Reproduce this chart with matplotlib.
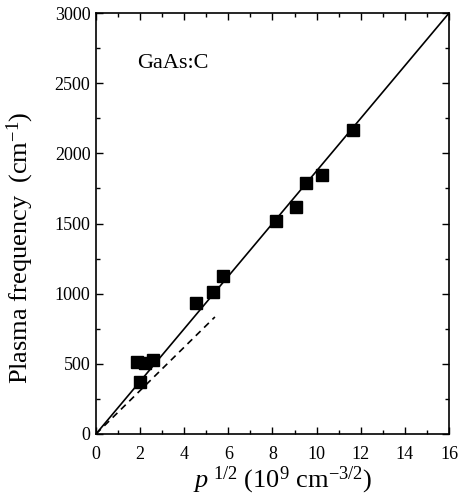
import matplotlib
matplotlib.use("Agg")
import matplotlib.pyplot as plt
import numpy as np
from matplotlib.ticker import MultipleLocator

plt.rcParams['font.family'] = ['Liberation Serif', 'DejaVu Serif']
plt.rcParams['mathtext.fontset'] = 'custom'
plt.rcParams['mathtext.rm'] = 'Liberation Serif'
plt.rcParams['mathtext.it'] = 'Liberation Serif:italic'

# measured points
p_sqrt = [1.84, 2.22, 2.6, 2.0, 4.55, 5.29, 5.74, 8.14, 9.05, 9.53, 10.26, 11.65]
plasma = [515, 506, 530, 368, 935, 1012, 1124, 1516, 1619, 1790, 1848, 2166]

# fit lines
fit_x = [0, 16]
fit_y = [0, 3000]
dash_x = [0, 5.39]
dash_y = [0, 834]

fig = plt.figure(figsize=(4.58, 5.04), dpi=100)
ax = fig.add_axes([0.2096, 0.139, 0.7707, 0.835])

ax.plot(fit_x, fit_y, color='black', lw=1.2)
ax.plot(dash_x, dash_y, color='black', lw=1.2, ls=(0, (4, 3)))
ax.plot(p_sqrt, plasma, 's', color='black', ms=8.5, zorder=3)

ax.set_xlim(0, 16)
ax.set_ylim(0, 3000)
ax.xaxis.set_major_locator(MultipleLocator(2))
ax.xaxis.set_minor_locator(MultipleLocator(1))
ax.yaxis.set_major_locator(MultipleLocator(500))
ax.yaxis.set_minor_locator(MultipleLocator(250))
ax.tick_params(which='both', direction='in', top=True, right=True, labelsize=13, width=1)
ax.tick_params(which='major', length=5)
ax.tick_params(which='minor', length=3)
ax.tick_params(axis='x', pad=9)
ax.tick_params(axis='y', pad=4)
for s in ax.spines.values():
    s.set_linewidth(1.2)

ax.text(1.86, 2644, 'GaAs:C', fontsize=16, va='center', ha='left')
ax.set_xlabel(r'$p^{\ 1/2}$ (10$^{9}$ cm$^{-3/2}$)', fontsize=19)
ax.set_ylabel(r'Plasma frequency  (cm$^{-1}$)', fontsize=19)
ax.xaxis.set_label_coords(0.530, -0.074)
ax.yaxis.set_label_coords(-0.170, 0.443)

fig.savefig('out.png', dpi=100)
